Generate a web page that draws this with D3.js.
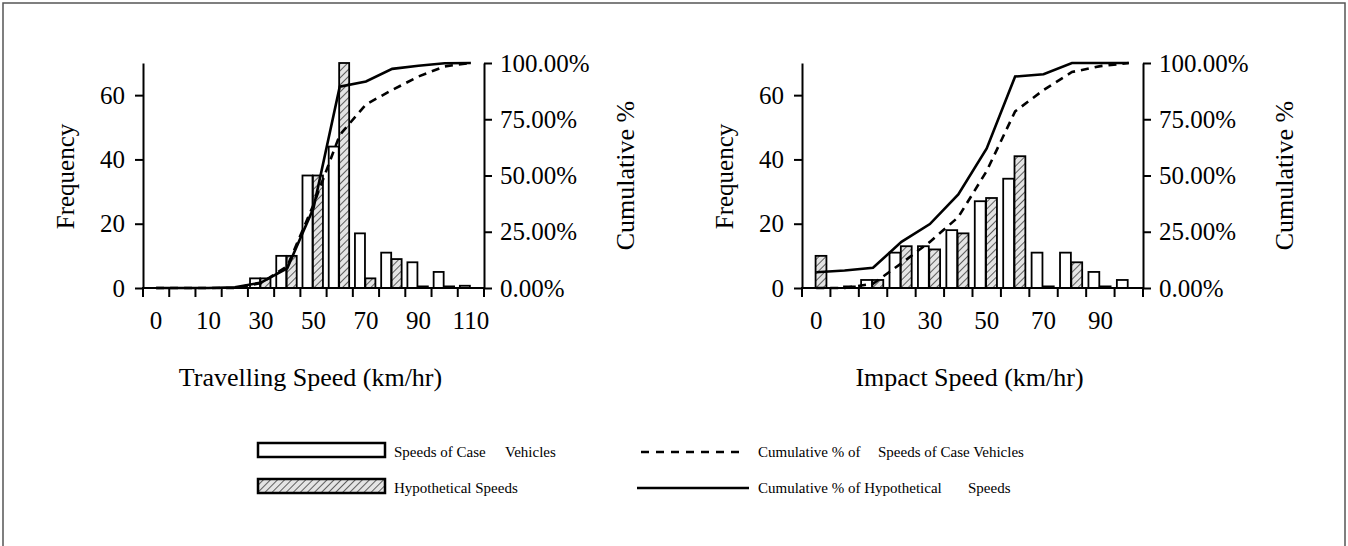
<!DOCTYPE html>
<html><head><meta charset="utf-8">
<script src="https://cdn.jsdelivr.net/npm/d3@7"></script>
<style>
body{margin:0;background:#fff}
svg text{font-family:"Liberation Serif","Times New Roman",Tinos,Times,"DejaVu Serif",serif !important;fill:#000}
</style>
</head><body>
<svg id="c" width="1348" height="546"></svg>
<script>
// ---------- data ----------
const leftCategories = ["0","5","10","20","30","40","50","60","70","80","90","100","110"];
const leftTickLabels = ["0","10","30","50","70","90","110"];
const leftCase = [0,0,0,0,3,10,35,44,17,11,8,5,0.7];
const leftHyp  = [0,0,0,0,3,10,35,70,3,9,0.5,0.5,0];
const leftCumCase = [0,0,0,0,2.2,9.7,37,68,81.6,88,94,98.5,100];
const leftCumHyp  = [0,0,0,0.3,2.4,8.8,35.5,89.5,91.8,97.4,98.8,99.9,100];

const rightCategories = ["0","5","10","20","30","40","50","60","70","80","90","100"];
const rightTickLabels = ["0","10","30","50","70","90"];
const rightCase = [0,0,2.5,11,13,18,27,34,11,11,5,2.5];
const rightHyp  = [10,0.5,2.5,13,12,17,28,41,0.5,8,0.5,0];
const rightCumCase = [0,0,1.9,11,20.5,31.5,52,78.5,88,96,98.6,100];
const rightCumHyp  = [7,7.8,9,20.5,28.4,41.6,62,94,95,100,100,100];

const freqTicks = [0,20,40,60];
const pctTicks = [0,0.25,0.5,0.75,1];

// ---------- drawing ----------
const FONT = '"Liberation Serif","Times New Roman",Tinos,Times,"DejaVu Serif",serif';
const svg = d3.select("#c");
const defs = svg.append("defs");
const pat = defs.append("pattern").attr("id","hatch").attr("width",5).attr("height",5)
  .attr("patternUnits","userSpaceOnUse").attr("patternTransform","rotate(45)");
pat.append("rect").attr("width",5).attr("height",5).attr("fill","#e4e4e4");
pat.append("line").attr("x1",0).attr("y1",0).attr("x2",0).attr("y2",5)
  .attr("stroke","#5e5e5e").attr("stroke-width",2);

svg.append("rect").attr("x",3).attr("y",3).attr("width",1342).attr("height",570)
  .attr("fill","none").attr("stroke","#555").attr("stroke-width",1.5);

function drawChart(o){
  const x = d3.scaleBand().domain(o.cats).range([o.xl,o.xr]).padding(0);
  const bw = x.bandwidth();
  const inner = d3.scaleBand().domain(["case","hyp"]).range([bw*0.08,bw*0.86]).paddingInner(0.04);
  const y = d3.scaleLinear().domain([0,70]).range([o.bottom,o.top]);
  const yp = d3.scaleLinear().domain([0,1]).range([o.bottom,o.top]);
  const g = svg.append("g").attr("font-family",FONT);

  const series = [
    {key:"case", vals:o.caseV, fill:"#fff"},
    {key:"hyp", vals:o.hypV, fill:"url(#hatch)"}
  ];
  series.forEach(s=>{
    g.append("g").selectAll("rect")
      .data(o.cats.map((c,i)=>({c, v:s.vals[i]})).filter(d=>d.v>0))
      .join("rect")
      .attr("x",d=>x(d.c)+inner(s.key))
      .attr("y",d=>y(d.v))
      .attr("width",inner.bandwidth())
      .attr("height",d=>o.bottom-y(d.v))
      .attr("fill",s.fill).attr("stroke","#000").attr("stroke-width",1.8);
  });

  const line = d3.line().x((d,i)=>x(o.cats[i])+bw/2).y(d=>yp(d/100));
  g.append("path").datum(o.cumCase).attr("d",line).attr("fill","none")
    .attr("stroke","#000").attr("stroke-width",2.6).attr("stroke-dasharray","8,6");
  g.append("path").datum(o.cumHyp).attr("d",line).attr("fill","none")
    .attr("stroke","#000").attr("stroke-width",2.6);

  const ax = g.append("g").attr("transform",`translate(${o.xl},0)`)
    .call(d3.axisLeft(y).tickValues(freqTicks).tickSize(8).tickSizeOuter(0).tickPadding(10));
  const ar = g.append("g").attr("transform",`translate(${o.xr},0)`)
    .call(d3.axisRight(yp).tickValues(pctTicks).tickFormat(d3.format(".2%")).tickSize(8).tickSizeOuter(0).tickPadding(8));
  const ab = g.append("g").attr("transform",`translate(0,${o.bottom})`)
    .call(d3.axisBottom(x).tickValues(o.ticks).tickSize(0).tickPadding(23));
  ab.select(".domain").remove();
  g.append("line").attr("x1",o.xl-1).attr("x2",o.xr+1).attr("y1",o.bottom).attr("y2",o.bottom)
    .attr("stroke","#000").attr("stroke-width",2);
  const bounds = o.cats.map(c=>x(c)).concat([o.xr]);
  g.append("g").selectAll("line").data(bounds).join("line")
    .attr("x1",d=>d).attr("x2",d=>d).attr("y1",o.bottom).attr("y2",o.bottom+9)
    .attr("stroke","#000").attr("stroke-width",2);

  [ax,ar].forEach(a=>{
    a.select(".domain").attr("stroke-width",2);
    a.selectAll(".tick line").attr("stroke-width",2);
  });
  [ax,ar,ab].forEach(a=>{
    a.attr("font-family",FONT).attr("font-size",25);
    a.selectAll("text").attr("font-family",FONT).attr("font-size",25).attr("fill","#000");
  });

  const mid = (o.top+o.bottom)/2;
  g.append("text").attr("transform",`translate(${o.xl-78},${mid+1}) rotate(-90)`)
    .attr("text-anchor","middle").attr("dominant-baseline","central")
    .attr("font-size",25).text("Frequency");
  g.append("text").attr("transform",`translate(${o.xr+141},${mid}) rotate(-90)`)
    .attr("text-anchor","middle").attr("dominant-baseline","central")
    .attr("font-size",26).text("Cumulative %");
  g.append("text").attr("x",(o.xl+o.xr)/2-3).attr("y",386)
    .attr("text-anchor","middle").attr("font-size",26).text(o.title);
}

drawChart({cats:leftCategories, ticks:leftTickLabels, caseV:leftCase, hypV:leftHyp,
  cumCase:leftCumCase, cumHyp:leftCumHyp, xl:143, xr:484, top:63, bottom:288,
  title:"Travelling Speed (km/hr)"});
drawChart({cats:rightCategories, ticks:rightTickLabels, caseV:rightCase, hypV:rightHyp,
  cumCase:rightCumCase, cumHyp:rightCumHyp, xl:802, xr:1143, top:63, bottom:288,
  title:"Impact Speed (km/hr)"});

// ---------- legend ----------
const lg = svg.append("g").attr("font-family",FONT);
lg.append("rect").attr("x",258).attr("y",443).attr("width",127).attr("height",14)
  .attr("fill","#fff").attr("stroke","#000").attr("stroke-width",2.5);
lg.append("rect").attr("x",258).attr("y",479).attr("width",127).attr("height",14)
  .attr("fill","url(#hatch)").attr("stroke","#000").attr("stroke-width",2.5);
lg.append("line").attr("x1",641).attr("x2",745).attr("y1",452).attr("y2",452)
  .attr("stroke","#000").attr("stroke-width",2.6).attr("stroke-dasharray","8,7");
lg.append("line").attr("x1",637).attr("x2",749).attr("y1",488).attr("y2",488)
  .attr("stroke","#000").attr("stroke-width",2.6);
const legendTexts = [
  {t:"Speeds of Case", x:394, y:457},
  {t:"Vehicles", x:505, y:457},
  {t:"Hypothetical Speeds", x:394, y:493},
  {t:"Cumulative % of", x:758, y:457},
  {t:"Speeds of Case Vehicles", x:878, y:457},
  {t:"Cumulative % of Hypothetical", x:758, y:493},
  {t:"Speeds", x:968, y:493}
];
lg.selectAll("text.l").data(legendTexts).join("text").attr("class","l")
  .attr("x",d=>d.x).attr("y",d=>d.y).attr("font-size",15).text(d=>d.t);
</script>
</body></html>
